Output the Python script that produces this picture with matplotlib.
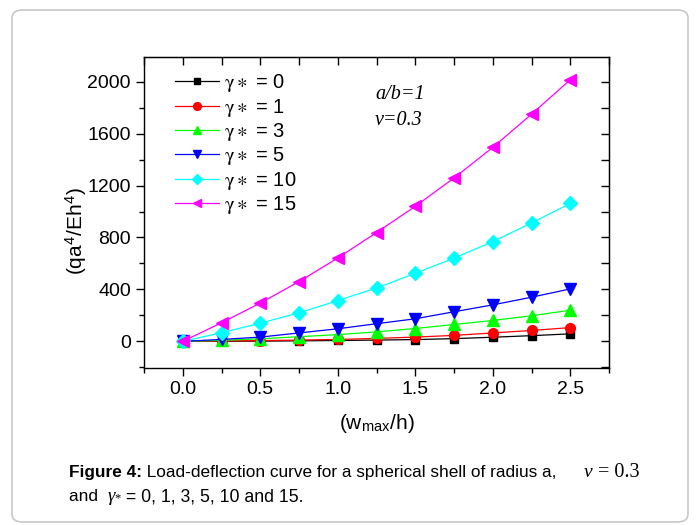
import numpy as np
import matplotlib.pyplot as plt
from matplotlib.patches import FancyBboxPatch

plt.rcParams['font.family'] = ['Liberation Sans', 'DejaVu Sans']
plt.rcParams['mathtext.fontset'] = 'stix'

# Data
w = [0.0, 0.25, 0.5, 0.75, 1.0, 1.25, 1.5, 1.75, 2.0, 2.25, 2.5]
g0 = [0, 1, 2, 4, 7, 10, 14, 21, 32, 44, 58]
g1 = [0, 3, 6, 10, 15, 23, 33, 46, 65, 84, 106]
g3 = [0, 8, 20, 36, 52, 73, 99, 130, 161, 197, 240]
g5 = [0, 15, 33, 65, 97, 136, 174, 228, 281, 340, 404]
g10 = [0, 67, 140, 220, 314, 411, 524, 641, 768, 912, 1062]
g15 = [0, 143, 295, 460, 642, 838, 1040, 1258, 1494, 1749, 2015]

series = [g0, g1, g3, g5, g10, g15]
labels = ['0', '1', '3', '5', '10', '15']
colors = ['#000000', '#ff0000', '#00ff00', '#0000ff', '#00ffff', '#ff00ff']
markers = ['s', 'o', '^', 'v', 'D', '<']
msizes = [6, 7, 8, 8, 7, 8]

fig = plt.figure(figsize=(6.96, 5.25), dpi=100)

# rounded frame around the whole figure
frame = FancyBboxPatch((12 / 696, 3 / 525), 676 / 696, 512 / 525,
                       boxstyle='round,pad=0,rounding_size=0.015',
                       transform=fig.transFigure, facecolor='none',
                       edgecolor='#c8c8c8', linewidth=1.2)
fig.patches.append(frame)

ax = fig.add_axes([144 / 696, 1 - 368 / 525, 465 / 696, 311 / 525])

for y, lab, c, m, ms in zip(series, labels, colors, markers, msizes):
    ax.plot(w, y, color=c, marker=m, markersize=ms, linewidth=0.9,
            label=r'$\mathrm{\gamma}\ast$ = ' + lab)

ax.set_xlim(-0.25, 2.75)
ax.set_ylim(-205, 2190)
ax.set_xticks([0.0, 0.5, 1.0, 1.5, 2.0, 2.5])
ax.set_xticks(np.arange(-0.25, 2.76, 0.25), minor=True)
ax.set_yticks(np.arange(0, 2001, 400))
ax.set_yticks(np.arange(-200, 2101, 200), minor=True)
ax.xaxis.set_major_formatter(plt.FormatStrFormatter('%.1f'))

ax.tick_params(axis='both', which='both', labelsize=14, width=1.0)
ax.tick_params(axis='both', which='major', length=6, direction='out')
ax.tick_params(axis='both', which='minor', length=3.5, direction='out')
for s in ax.spines.values():
    s.set_linewidth(1.0)

# mirrored ticks pointing inward on top/right
axt = ax.secondary_xaxis('top')
axt.set_xticks(np.arange(-0.25, 2.76, 0.25))
axt.tick_params(direction='in', length=6, labeltop=False, width=1.0)
axr = ax.secondary_yaxis('right')
axr.set_yticks(np.arange(-200, 2101, 200))
axr.tick_params(direction='in', length=6, labelright=False, width=1.0)

ax.set_xlabel(r'(w$_{\mathregular{max}}$/h)', fontsize=15, labelpad=10)
ax.set_ylabel(r'(qa$^{\mathregular{4}}$/Eh$^{\mathregular{4}}$)', fontsize=15)
ax.yaxis.set_label_coords(-0.118, 0.44)

ax.legend(loc='upper left', bbox_to_anchor=(0.032, 1.003), frameon=False,
          fontsize=14.5, handlelength=2.2, labelspacing=0.12,
          handletextpad=0.25, borderaxespad=0.4, markerscale=0.8)

ax.text(0.497, 0.865, 'a/b=1', transform=ax.transAxes, fontsize=14.5,
        family='Liberation Serif', style='italic')
ax.text(0.497, 0.78, 'v=0.3', transform=ax.transAxes, fontsize=14.5,
        family='Liberation Serif', style='italic')

# caption, built from pieces
fig.canvas.draw()
renderer = fig.canvas.get_renderer()


def put(parts, x, y):
    for txt, kw in parts:
        opts = {'fontsize': 12.4}
        opts.update(kw)
        x = opts.pop('at', x)
        t = fig.text(x / 696, 1 - y / 525, txt, va='baseline', **opts)
        bb = t.get_window_extent(renderer)
        x += bb.width


put([('Figure 4:', {'weight': 'bold'}),
     (' Load-deflection curve for a spherical shell of radius a,', {}),
     ('ν', {'family': 'Liberation Serif', 'style': 'italic', 'fontsize': 14, 'at': 584}),
     (' = 0.3', {'family': 'Liberation Serif', 'fontsize': 14.5})], 69, 477)
put([('and  ', {}),
     ('γ', {'family': 'Liberation Serif', 'style': 'italic', 'fontsize': 13.5}),
     ('*', {'family': 'Liberation Serif', 'fontsize': 9}),
     (' = 0, 1, 3, 5, 10 and 15.', {'fontsize': 12.7})], 69, 501)

fig.savefig('out.png', dpi=100)
